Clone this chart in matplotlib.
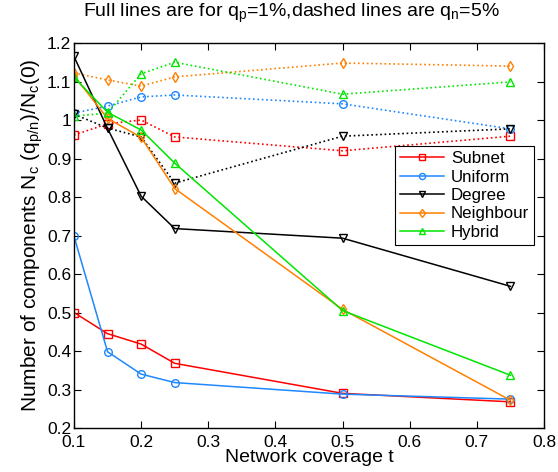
import matplotlib
matplotlib.use('Agg')
import matplotlib.pyplot as plt
from matplotlib.ticker import FuncFormatter

plt.rcParams['font.family'] = ['Liberation Sans', 'DejaVu Sans']
plt.rcParams['mathtext.fontset'] = 'custom'
plt.rcParams['mathtext.rm'] = 'Liberation Sans'

# coverage t
t = [0.1, 0.15, 0.2, 0.25, 0.5, 0.75]
names = ["Subnet", "Uniform", "Degree", "Neighbour", "Hybrid"]

# full lines, q_p = 1%
full = {
    "Subnet":    [0.500, 0.445, 0.418, 0.368, 0.290, 0.268],
    "Uniform":   [0.698, 0.398, 0.340, 0.318, 0.288, 0.275],
    "Degree":    [1.165, 0.978, 0.802, 0.718, 0.693, 0.568],
    "Neighbour": [1.115, 1.004, 0.955, 0.822, 0.508, 0.272],
    "Hybrid":    [1.111, 1.020, 0.974, 0.888, 0.505, 0.337],
}
# dotted lines, q_n = 5%
dashed = {
    "Subnet":    [0.961, 0.990, 1.000, 0.956, 0.920, 0.958],
    "Uniform":   [1.018, 1.036, 1.060, 1.065, 1.042, 0.977],
    "Degree":    [1.015, 0.979, 0.956, 0.836, 0.958, 0.977],
    "Neighbour": [1.122, 1.104, 1.088, 1.112, 1.148, 1.140],
    "Hybrid":    [1.010, 1.018, 1.120, 1.150, 1.067, 1.099],
}

colors = {"Subnet": "#ff0000", "Uniform": "#1e88ff", "Degree": "#000000",
          "Neighbour": "#ff8000", "Hybrid": "#00e600"}
markers = {"Subnet": "s", "Uniform": "o", "Degree": "v",
           "Neighbour": "d", "Hybrid": "^"}

fig = plt.figure(figsize=(5.58, 4.72), dpi=100)
ax = fig.add_axes([0.1326, 0.0932, 0.8424, 0.8157])

for n in names:
    ax.plot(t, dashed[n], ':', color=colors[n], marker=markers[n], ms=5.5,
            mfc='none', mew=1, lw=1.2)
for n in names:
    ax.plot(t, full[n], '-', color=colors[n], marker=markers[n], ms=5.5,
            mfc='none', mew=1, lw=1.1, label=n)

ax.set_xlim(0.1, 0.8)
ax.set_ylim(0.2, 1.2)
ax.set_xticks([0.1, 0.2, 0.3, 0.4, 0.5, 0.6, 0.7, 0.8])
ax.set_yticks([0.2, 0.3, 0.4, 0.5, 0.6, 0.7, 0.8, 0.9, 1.0, 1.1, 1.2])
ax.yaxis.set_major_formatter(FuncFormatter(lambda v, p: '%g' % round(v, 2)))
ax.tick_params(direction='in', top=True, right=True, labelsize=12.5, length=5,
               width=0.8, pad=2)
ax.tick_params(axis='x', pad=5)
for s in ax.spines.values():
    s.set_linewidth(1.0)

ax.set_xlabel('Network coverage t', fontsize=14, labelpad=-1)
ax.set_ylabel(r'Number of components N$_\mathregular{c}$ (q$_\mathregular{p/n}$)/N$_\mathregular{c}$(0)',
              fontsize=15, labelpad=1)
fig.text(0.523, 0.972,
         r'Full lines are for q$_\mathregular{p}$=1%,dashed lines are q$_\mathregular{n}$=5%',
         fontsize=14, ha='center', va='center')

leg = ax.legend(loc='upper right', bbox_to_anchor=(0.979, 0.732), fontsize=12.2,
                fancybox=False, edgecolor='black', framealpha=1, borderpad=0.3,
                labelspacing=0.2, handlelength=2.6, handletextpad=0.4, markerscale=0.8,
                borderaxespad=0)
leg.get_frame().set_linewidth(0.8)

fig.savefig('out.png', dpi=100)
